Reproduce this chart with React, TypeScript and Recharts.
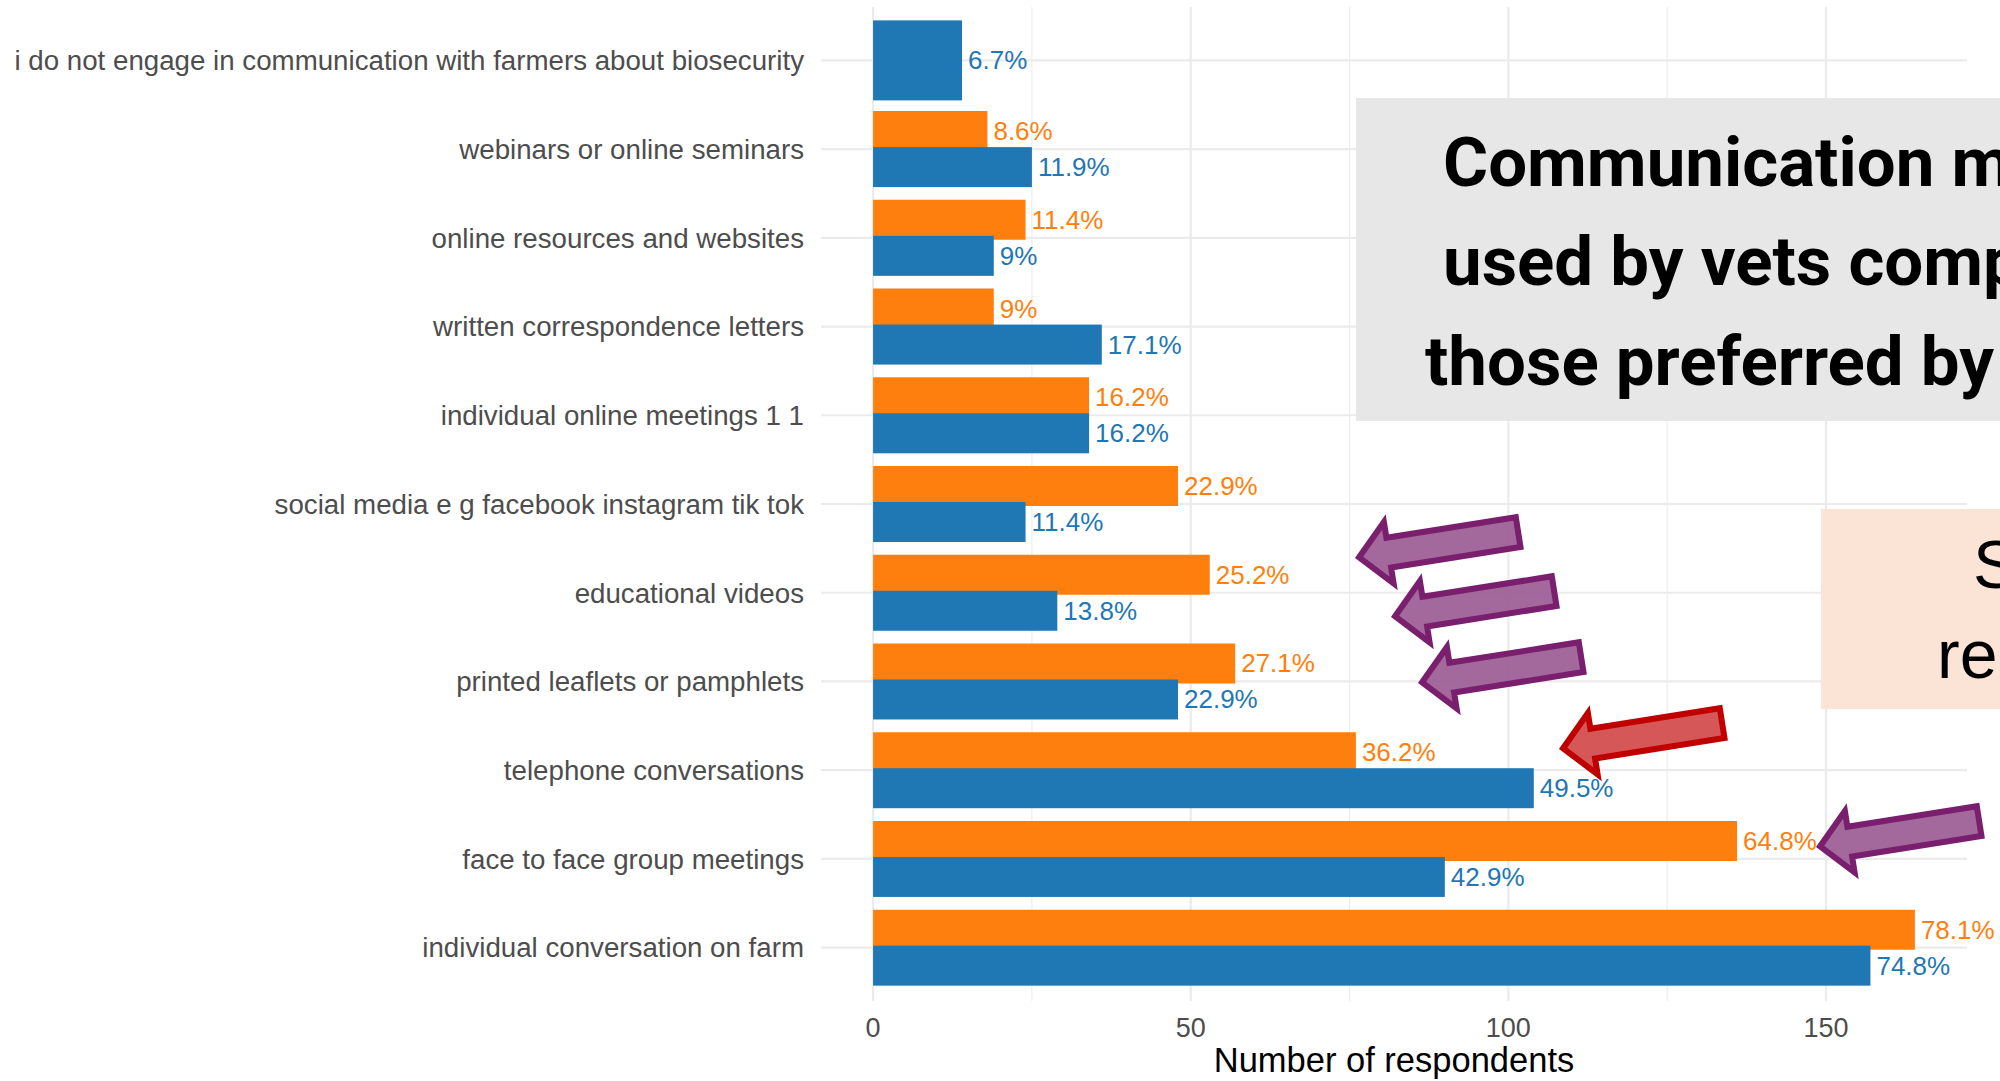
import React from 'react';
import { BarChart, Bar, XAxis, YAxis, CartesianGrid, LabelList, Label } from 'recharts';

const categories = [
  'i do not engage in communication with farmers about biosecurity',
  'webinars or online seminars',
  'online resources and websites',
  'written correspondence letters',
  'individual online meetings 1 1',
  'social media e g facebook instagram tik tok',
  'educational videos',
  'printed leaflets or pamphlets',
  'telephone conversations',
  'face to face group meetings',
  'individual conversation on farm',
];

const farmerCounts: (number | null)[] = [null, 18, 24, 19, 34, 48, 53, 57, 76, 136, 164];
const vetCounts: number[] = [14, 25, 19, 36, 34, 24, 29, 48, 104, 90, 157];
const farmerPct: (string | null)[] = [null, '8.6%', '11.4%', '9%', '16.2%', '22.9%', '25.2%', '27.1%', '36.2%', '64.8%', '78.1%'];
const vetPct: string[] = ['6.7%', '11.9%', '9%', '17.1%', '16.2%', '11.4%', '13.8%', '22.9%', '49.5%', '42.9%', '74.8%'];

const xTicks = [0, 50, 100, 150];
const xMinorTicks = [25, 75, 125];
const xDomain: [number, number] = [-8.2, 172.2];

const titleLines = ['Communication methods', 'used by vets compared to', 'those preferred by farmers'];
const noteLines = ['Strategies', 'required'];

const FARMER = '#FF7F0E';
const VET = '#1F77B4';
const FONT = '"Liberation Sans", Arial, sans-serif';
const GAP = -4;
const Y_PAD = 9;

const data = categories.map((c, i) => ({
  category: c,
  farmers: farmerCounts[i],
  vets: vetCounts[i],
  farmerPct: farmerPct[i],
  vetPct: vetPct[i],
}));

const VetShape = (props: any) => {
  const { x, y, width, height, payload, fill } = props;
  if (x == null || y == null || width == null || height == null) return null;
  const solo = payload && payload.farmers == null;
  let yy = y;
  let hh = height;
  if (solo) {
    const c = y - GAP / 2;
    yy = c - height;
    hh = height * 2;
  }
  return <rect x={x} y={yy} width={Math.max(0, width)} height={hh} fill={fill} />;
};

const makeLabel = (color: string, series: 'farmers' | 'vets') => (props: any) => {
  const vb = props.viewBox || props;
  const { x, y, width, height } = vb;
  if (props.value == null || x == null || y == null) return null;
  let cy = y + height / 2;
  let entry: any = props.index != null ? data[props.index] : undefined;
  if (!entry && series === 'vets') entry = data.find((d) => d.vetPct === props.value);
  if (series === 'vets' && entry && entry.farmers == null) cy = y - GAP / 2;
  return (
    <text x={x + width + 6} y={cy} fill={color} fontSize={26} fontFamily={FONT} dominantBaseline="central">
      {props.value}
    </text>
  );
};

const xPos = (p: any, v: number) => {
  const s = p?.xAxis?.scale;
  if (typeof s === 'function') return s(v);
  if (s && typeof s.map === 'function') return s.map(v);
  const off = p?.offset || {};
  return off.left + ((v - xDomain[0]) / (xDomain[1] - xDomain[0])) * off.width;
};

const yPositions = (p: any) => {
  const s = p?.yAxis?.scale;
  if (typeof s === 'function' && typeof s.bandwidth === 'function') {
    const bw = s.bandwidth();
    return categories.map((c) => s(c) + bw / 2);
  }
  const off = p?.offset || {};
  const band = (off.height - 2 * Y_PAD) / categories.length;
  return categories.map((_, i) => off.top + Y_PAD + (i + 0.5) * band);
};

function arrowPoints(tipX: number, tipY: number, angleDeg: number) {
  const L = 161;
  const hl = 30;
  const hw = 31;
  const st = 15;
  const a = (angleDeg * Math.PI) / 180;
  const c = Math.cos(a);
  const s = Math.sin(a);
  const tx = tipX + 4.2 * c;
  const ty = tipY + 4.2 * s;
  const local = [
    [0, 0],
    [hl, -hw],
    [hl, -st],
    [L, -st],
    [L, st],
    [hl, st],
    [hl, hw],
  ];
  return local.map(([u, v]) => `${(tx + u * c - v * s).toFixed(1)},${(ty + u * s + v * c).toFixed(1)}`).join(' ');
}

const arrowTips = [
  { x: 1355, y: 558, red: false },
  { x: 1391, y: 617, red: false },
  { x: 1418, y: 683, red: false },
  { x: 1559, y: 749, red: true },
  { x: 1816, y: 847, red: false },
];

export default function App() {
  return (
    <div style={{ position: 'relative', width: 2000, height: 1081, overflow: 'hidden', background: '#fff' }}>
      <style>{`html,body{margin:0;padding:0;overflow:hidden;background:#fff;}`}</style>
      <BarChart
        width={2000}
        height={1081}
        data={data}
        layout="vertical"
        margin={{ top: 7, right: 33, bottom: 0, left: 0 }}
        barCategoryGap="7.2%"
        barGap={GAP}
      >
        <CartesianGrid
          stroke="#EBEBEB"
          strokeWidth={1.1}
          horizontal={false}
          verticalCoordinatesGenerator={(p: any) => xMinorTicks.map((v) => xPos(p, v))}
        />
        <CartesianGrid
          stroke="#EBEBEB"
          strokeWidth={2.2}
          verticalCoordinatesGenerator={(p: any) => xTicks.map((v) => xPos(p, v))}
          horizontalCoordinatesGenerator={(p: any) => yPositions(p)}
        />
        <XAxis
          type="number"
          domain={xDomain}
          ticks={xTicks}
          allowDataOverflow
          axisLine={false}
          tickLine={false}
          tickSize={0}
          tickMargin={17}
          height={80}
          tick={{ fill: '#4D4D4D', fontSize: 27, fontFamily: FONT }}
        >
          <Label value="Number of respondents" position="insideBottom" offset={9} fill="#000" fontSize={34.5} fontFamily={FONT} />
        </XAxis>
        <YAxis
          type="category"
          dataKey="category"
          width={821}
          axisLine={false}
          tickLine={false}
          tickSize={0}
          tickMargin={17}
          interval={0}
          padding={{ top: Y_PAD, bottom: Y_PAD }}
          tick={{ fill: '#4D4D4D', fontSize: 27.7, fontFamily: FONT }}
        />
        <Bar dataKey="farmers" name="Farmers" fill={FARMER} isAnimationActive={false}>
          <LabelList dataKey="farmerPct" content={makeLabel(FARMER, 'farmers')} />
        </Bar>
        <Bar dataKey="vets" name="Vets" fill={VET} isAnimationActive={false} shape={VetShape}>
          <LabelList dataKey="vetPct" content={makeLabel(VET, 'vets')} />
        </Bar>
      </BarChart>
      <svg width={2000} height={1081} style={{ position: 'absolute', left: 0, top: 0, pointerEvents: 'none' }}>
        <rect x={1356} y={98} width={700} height={323} fill="#E7E7E7" />
        <text x={1443} y={186} fontSize={69} fontWeight={700} fontFamily="Roboto, sans-serif" fill="#000">{titleLines[0]}</text>
        <text x={1443} y={285} fontSize={69} fontWeight={700} fontFamily="Roboto, sans-serif" fill="#000">{titleLines[1]}</text>
        <text x={1425} y={385} fontSize={69} fontWeight={700} fontFamily="Roboto, sans-serif" fill="#000">{titleLines[2]}</text>
        <rect x={1821} y={509} width={300} height={200} fill="#FBE4D6" />
        <text x={1973} y={588} fontSize={68} fontFamily={FONT} fill="#000">{noteLines[0]}</text>
        <text x={1937} y={678} fontSize={68} fontFamily={FONT} fill="#000">{noteLines[1]}</text>
        {arrowTips.map((t, i) => (
          <polygon
            key={i}
            points={arrowPoints(t.x, t.y, -9)}
            fill={t.red ? '#D24A4A' : '#9C5E94'}
            fillOpacity={0.93}
            stroke={t.red ? '#C00000' : '#7A1F6D'}
            strokeWidth={6}
            strokeLinejoin="miter"
          />
        ))}
      </svg>
    </div>
  );
}
